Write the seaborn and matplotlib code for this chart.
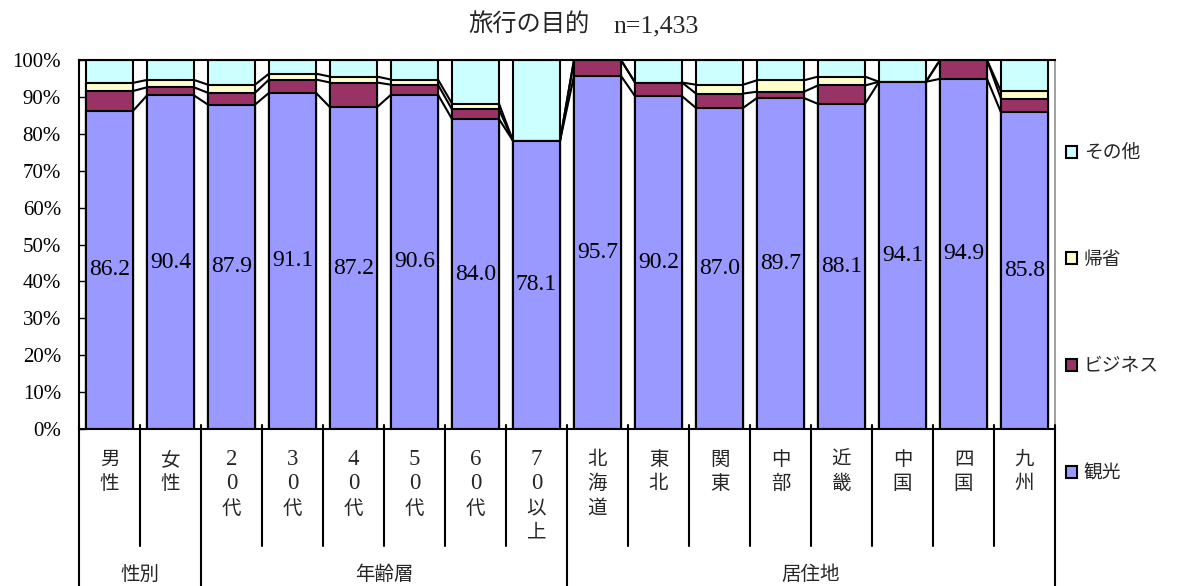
import matplotlib
matplotlib.use("Agg")
import matplotlib.pyplot as plt
from matplotlib.patches import Patch
import numpy as np
import seaborn as sns

# ---- data ----
categories = ["男性", "女性", "20代", "30代", "40代", "50代", "60代", "70以上",
              "北海道", "東北", "関東", "中部", "近畿", "中国", "四国", "九州"]
groups = ["性別", "年齢層", "居住地"]
group_sizes = [2, 6, 8]
series_names = ["観光", "ビジネス", "帰省", "その他"]
kanko = [86.2, 90.4, 87.9, 91.1, 87.2, 90.6, 84.0, 78.1, 95.7, 90.2, 87.0, 89.7, 88.1, 94.1, 94.9, 85.8]
business = [5.4, 2.2, 3.2, 3.6, 6.7, 2.7, 2.6, 0.0, 4.3, 3.7, 3.9, 1.7, 5.0, 0.0, 5.1, 3.7]
kisei = [2.2, 2.0, 2.2, 1.6, 1.6, 1.4, 1.6, 0.0, 0.0, 0.0, 2.4, 3.1, 2.4, 0.0, 0.0, 2.0]
other = [6.2, 5.4, 6.7, 3.7, 4.5, 5.3, 11.8, 21.9, 0.0, 6.1, 6.7, 5.5, 4.5, 5.9, 0.0, 8.5]
title_main = "旅行の目的"
title_n = "n=1,433"

colors = {"観光": "#9999FF", "ビジネス": "#993366", "帰省": "#FFFFCC", "その他": "#CCFFFF"}

sns.set_theme(style="white")
plt.rcParams["font.family"] = ["Liberation Serif", "Noto Sans CJK JP"]

W, H = 1178, 586
fig = plt.figure(figsize=(W / 100, H / 100), dpi=100)
ax_l, ax_r, ax_b, ax_t = 79, 1055, 429, 60
ax = fig.add_axes([ax_l / W, (H - ax_b) / H, (ax_r - ax_l) / W, (ax_b - ax_t) / H])

c1 = np.array(kanko)
c2 = c1 + np.array(business)
c3 = c2 + np.array(kisei)
c4 = c3 + np.array(other)

bw = 0.77
for cum, name in [(c4, "その他"), (c3, "帰省"), (c2, "ビジネス"), (c1, "観光")]:
    sns.barplot(x=categories, y=cum, color=colors[name], saturation=1, width=bw,
                edgecolor="black", linewidth=1.5, errorbar=None, ax=ax, zorder=2)

# series lines
n = len(categories)
for cum in (c1, c2, c3):
    for i in range(n - 1):
        ax.plot([i + bw / 2, i + 1 - bw / 2], [cum[i], cum[i + 1]], color="black",
                lw=1.5, zorder=3, solid_capstyle="butt")

# data labels
for i, v in enumerate(kanko):
    ax.text(i, v / 2, f"{v:.1f}", ha="center", va="center", fontsize=17,
            color="black", zorder=4)

ax.set_xlim(-0.5, n - 0.5)
ax.set_ylim(0, 100)
ax.set_yticks(np.arange(0, 101, 10))
ax.set_yticklabels([f"{t}%" for t in range(0, 101, 10)], fontsize=15)
ax.tick_params(axis="y", direction="in", length=5, width=1, pad=13, colors="black", left=True)
ax.tick_params(axis="x", bottom=False, labelbottom=False)
ax.set_xlabel("")
ax.set_ylabel("")
for s in ["left", "top", "bottom"]:
    ax.spines[s].set_color("black")
    ax.spines[s].set_linewidth(1.5)
ax.spines["right"].set_color("#909090")
ax.spines["right"].set_linewidth(1.2)

# category area below axis
trans = ax.get_xaxis_transform()
ph = ax_b - ax_t
group_edges = np.cumsum([0] + group_sizes) - 0.5
for k in range(n + 1):
    x = k - 0.5
    if np.any(np.isclose(group_edges, x)):
        y1 = -(H - ax_b + 2) / ph
    else:
        y1 = -(546 - ax_b) / ph
    ax.plot([x, x], [4 / ph, y1], transform=trans, color="black", lw=1.5,
            clip_on=False, zorder=5)

line_h = 24.3
base0 = 465
for i, lab in enumerate(categories):
    for j, ch in enumerate(lab):
        yy = -(base0 + j * line_h - ax_b) / ph
        fs = 16.5 if ch.isdigit() else 14
        ax.text(i, yy, ch, transform=trans, ha="center", va="baseline",
                fontsize=fs, clip_on=False)

for g, (name, start) in enumerate(zip(groups, np.cumsum([0] + group_sizes[:-1]))):
    xc = start + group_sizes[g] / 2 - 0.5
    ax.text(xc, -(575 - ax_b) / ph, name, transform=trans, ha="center", va="center",
            fontsize=14, clip_on=False)

# legend
handles = [Patch(facecolor=colors[s], edgecolor="black", linewidth=1.5)
           for s in ["その他", "帰省", "ビジネス", "観光"]]
fig.legend(handles, ["その他", "帰省", "ビジネス", "観光"], loc="upper left",
           bbox_to_anchor=(1066 / W, 1 - 145 / H), frameon=False, fontsize=13.5,
           handlelength=0.6, handleheight=0.6, handletextpad=0.35,
           labelspacing=4.78, borderpad=0, borderaxespad=0)

fig.text(468 / W, 1 - 25 / H, title_main, ha="left", va="center", fontsize=17.5)
fig.text(613 / W, 1 - 26 / H, title_n, ha="left", va="center", fontsize=18.5)

fig.savefig("out.png", dpi=100)
